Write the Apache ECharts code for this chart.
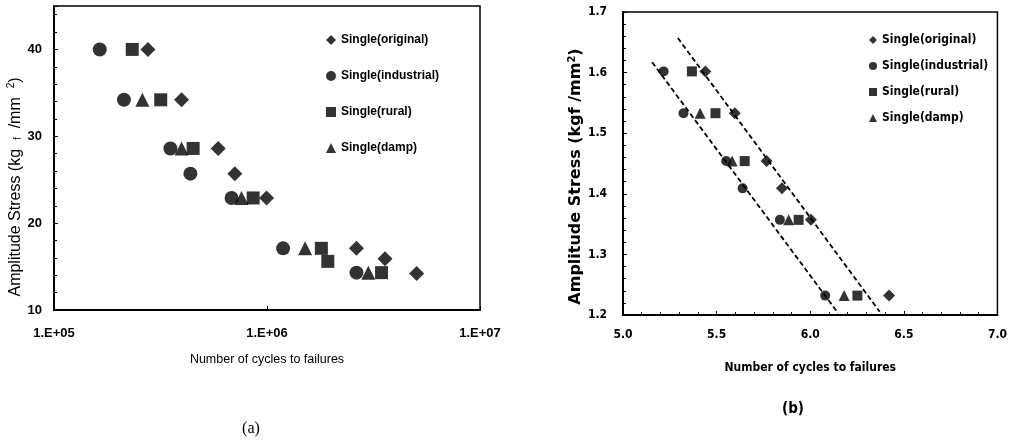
<!DOCTYPE html>
<html>
<head>
<meta charset="utf-8">
<script src="https://cdn.jsdelivr.net/npm/echarts@6/dist/echarts.min.js"></script>
<style>
html,body{margin:0;padding:0;background:#fff;}
#main{width:1010px;height:442px;}
</style>
</head>
<body>
<div id="main"></div>
<script>
// ---------- Data: chart (a)  (cycles to failure, amplitude stress kgf/mm2) ----------
const seriesNames = ['Single(original)', 'Single(industrial)', 'Single(rural)', 'Single(damp)'];
const seriesSymbols = ['diamond', 'circle', 'rect', 'triangle'];

const aOriginalN   = [276000, 397000, 590000, 706000, 995000, 2630000, 3580000, 5040000];
const aOriginalS   = [40.0, 34.2, 28.6, 25.7, 22.9, 17.1, 15.9, 14.2];
const aIndustrialN = [164000, 213000, 352000, 437000, 682000, 1190000, 2630000];
const aIndustrialS = [40.0, 34.2, 28.6, 25.7, 22.9, 17.1, 14.3];
const aRuralN      = [233000, 317000, 450000, 861000, 1800000, 1930000, 3450000];
const aRuralS      = [40.0, 34.2, 28.6, 22.9, 17.1, 15.6, 14.3];
const aDampN       = [260000, 397000, 759000, 1510000, 2990000];
const aDampS       = [34.2, 28.6, 22.9, 17.1, 14.3];
const aXTickLabels = ['1.E+05', '1.E+06', '1.E+07'];

// ---------- Data: chart (b)  (log cycles, log stress) ----------
const bOriginalX   = [5.440, 5.597, 5.767, 5.849, 6.004, 6.421];
const bOriginalY   = [1.602, 1.533, 1.454, 1.409, 1.357, 1.232];
const bIndustrialX = [5.217, 5.323, 5.551, 5.639, 5.838, 6.080];
const bIndustrialY = [1.602, 1.533, 1.454, 1.409, 1.357, 1.232];
const bRuralX      = [5.368, 5.494, 5.650, 5.938, 6.252];
const bRuralY      = [1.602, 1.533, 1.454, 1.357, 1.232];
const bDampX       = [5.412, 5.583, 5.885, 6.181];
const bDampY       = [1.533, 1.454, 1.357, 1.232];
const bFitUpperX   = [5.293, 6.371];
const bFitUpperY   = [1.657, 1.2055];
const bFitLowerX   = [5.156, 6.149];
const bFitLowerY   = [1.617, 1.203];

function zip(xs, ys) { return xs.map((x, i) => [x, ys[i]]); }

const fontA = "'Liberation Sans', Arial, sans-serif";
const fontB = "'DejaVu Sans Condensed', 'DejaVu Sans', sans-serif";
const fontBWide = "'DejaVu Sans', sans-serif";

const aData = [zip(aOriginalN, aOriginalS), zip(aIndustrialN, aIndustrialS), zip(aRuralN, aRuralS), zip(aDampN, aDampS)];
const bData = [zip(bOriginalX, bOriginalY), zip(bIndustrialX, bIndustrialY), zip(bRuralX, bRuralY), zip(bDampX, bDampY)];
const aSizes = [15, 14, 13, 14];
const bSizes = [12, 10, 10, 11];

const series = [];
seriesNames.forEach((n, i) => {
  series.push({
    name: n, type: 'scatter', xAxisIndex: 0, yAxisIndex: 0,
    symbol: seriesSymbols[i], symbolSize: aSizes[i],
    itemStyle: { color: '#000' }, data: aData[i], z: 3
  });
});
seriesNames.forEach((n, i) => {
  series.push({
    name: n, type: 'scatter', xAxisIndex: 1, yAxisIndex: 1,
    symbol: seriesSymbols[i], symbolSize: bSizes[i],
    itemStyle: { color: '#000' }, data: bData[i], z: 3
  });
});
[[bFitUpperX, bFitUpperY], [bFitLowerX, bFitLowerY]].forEach((ln) => {
  series.push({
    name: 'fit', type: 'line', xAxisIndex: 1, yAxisIndex: 1,
    data: zip(ln[0], ln[1]), symbol: 'none', silent: true,
    lineStyle: { color: '#000', width: 1.8, type: [5, 3] }, z: 2
  });
});

const axisLineStyle = { lineStyle: { color: '#000', width: 2 } };

const option = {
  backgroundColor: '#fff',
  animation: false,
  title: [
    { text: '(a)', left: 246, top: 416, textAlign: 'center',
      textStyle: { fontFamily: "'Liberation Serif', 'DejaVu Serif', serif", fontSize: 16, fontWeight: 'normal', color: '#000' } },
    { text: '(b)', left: 788, top: 397, textAlign: 'center',
      textStyle: { fontFamily: fontB, fontSize: 15, fontWeight: 'bold', color: '#000' } }
  ],
  legend: [
    { orient: 'vertical', left: 321, top: 28, itemWidth: 10, itemHeight: 10, itemGap: 22,
      textStyle: { fontFamily: fontA, fontSize: 12, fontWeight: 'bold', color: '#000', lineHeight: 14 },
      data: seriesNames.map((n, i) => ({ name: n, icon: seriesSymbols[i] })),
      selectedMode: false },
    { orient: 'vertical', left: 864, top: 28, itemWidth: 8, itemHeight: 8, itemGap: 12,
      textStyle: { fontFamily: fontB, fontSize: 12, fontWeight: 'bold', color: '#000', lineHeight: 14 },
      data: seriesNames.map((n, i) => ({ name: n, icon: seriesSymbols[i] })),
      selectedMode: false }
  ],
  grid: [
    { left: 54, top: 6, width: 426, height: 304, show: true, borderColor: '#000', borderWidth: 1.5, backgroundColor: 'transparent' },
    { left: 623, top: 12, width: 376, height: 303, show: true, borderColor: '#000', borderWidth: 1.5, backgroundColor: 'transparent' }
  ],
  xAxis: [
    { type: 'log', gridIndex: 0, logBase: 10, min: 1e5, max: 1e7,
      name: 'Number of cycles to failures', nameLocation: 'middle', nameGap: 43,
      nameTextStyle: { fontFamily: fontA, fontSize: 12.5, color: '#000' },
      axisLine: axisLineStyle,
      axisTick: { show: true, inside: true, length: 4, lineStyle: { color: '#000' } },
      splitLine: { show: false },
      axisLabel: { margin: 17, fontFamily: fontA, fontSize: 13, fontWeight: 'bold', color: '#000',
        formatter: (v) => aXTickLabels[Math.round(Math.log10(v)) - 5] } },
    { type: 'value', gridIndex: 1, min: 5, max: 7, interval: 0.5,
      name: 'Number of cycles to failures', nameLocation: 'middle', nameGap: 47,
      nameTextStyle: { fontFamily: fontB, fontSize: 12, fontWeight: 'bold', color: '#000' },
      axisLine: axisLineStyle,
      axisTick: { show: true, inside: true, length: 4, lineStyle: { color: '#000' } },
      minorTick: { show: true, splitNumber: 5, length: 3, lineStyle: { color: '#000' } },
      splitLine: { show: false },
      axisLabel: { margin: 14, fontFamily: fontB, fontSize: 12, fontWeight: 'bold', color: '#000',
        formatter: (v) => v.toFixed(1) } }
  ],
  yAxis: [
    { type: 'value', gridIndex: 0, min: 10, max: 45, interval: 10,
      name: 'Amplitude Stress (kg  {sub|f}  /mm  {sup|2})', nameLocation: 'middle', nameGap: 22,
      nameTextStyle: { fontFamily: fontA, fontSize: 16, color: '#000', padding: [0, 58, 0, 0],
        rich: { sub: { fontFamily: fontA, fontSize: 10, color: '#000', verticalAlign: 'bottom', padding: [7, 0, 0, 0] },
                sup: { fontFamily: fontA, fontSize: 10, color: '#000', verticalAlign: 'top', padding: [0, 0, 7, 0] } } },
      axisLine: axisLineStyle,
      axisTick: { show: true, inside: true, length: 4, lineStyle: { color: '#000' } },
      minorTick: { show: true, splitNumber: 5, length: 3, lineStyle: { color: '#000' } },
      splitLine: { show: false },
      axisLabel: { margin: 12, showMaxLabel: false, fontFamily: fontA, fontSize: 13, fontWeight: 'bold', color: '#000' } },
    { type: 'value', gridIndex: 1, min: 1.2, max: 1.7, interval: 0.1,
      name: 'Amplitude Stress (kgf /mm{sup|2})', nameLocation: 'middle', nameGap: 25,
      nameTextStyle: { fontFamily: fontBWide, fontSize: 16, fontWeight: 'bold', color: '#000', padding: [0, 26, 0, 0],
        rich: { sup: { fontFamily: fontBWide, fontSize: 10, fontWeight: 'bold', color: '#000', verticalAlign: 'top', padding: [0, 0, 7, 0] } } },
      axisLine: axisLineStyle,
      axisTick: { show: true, inside: true, length: 4, lineStyle: { color: '#000' } },
      minorTick: { show: true, splitNumber: 5, length: 3, lineStyle: { color: '#000' } },
      splitLine: { show: false },
      axisLabel: { margin: 16, fontFamily: fontB, fontSize: 12, fontWeight: 'bold', color: '#000',
        formatter: (v) => v.toFixed(1) } }
  ],
  series: series
};

const chart = echarts.init(document.getElementById('main'), null, { renderer: 'canvas' });
chart.setOption(option);
</script>
</body>
</html>
